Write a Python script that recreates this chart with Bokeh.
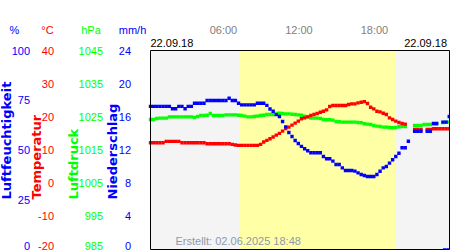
import math
from bokeh.plotting import figure
from bokeh.models import Range1d, Label, BoxAnnotation, ColumnDataSource
from bokeh.embed import file_html
from bokeh.resources import INLINE

nan = float("nan")

# ---------------- data (15-minute steps, 22.09.18) ----------------
step_h = 0.25
humidity = [
    71.9, 71.9, 71.9, 71.9, 71.9, 71.9, 71.9, 70.7, 70.7, 71.9, 71.9, 70.7,
    71.9, 71.9, 73.5, 73.5, 73.5, 73.5, 74.9, 74.9, 74.9, 74.9, 74.9, 74.9,
    74.9, 76.0, 74.9, 74.9, 73.5, 72.7, 72.7, 72.7, 72.7, 72.7, 73.5, 73.5,
    73.5, 72.4, 70.6, 69.5, 67.8, 66.8, 64.3, 61.6, 58.8, 56.8, 54.8, 53.3,
    51.8, 50.6, 49.6, 48.6, 48.6, 48.6, 48.6, 46.7, 45.6, 45.6, 44.4, 42.7,
    42.7, 41.0, 39.7, 39.7, 39.7, 39.4, 38.5, 37.7, 37.2, 36.7, 36.7, 36.7,
    37.7, 39.3, 41.0, 41.7, 43.4, 45.1, 46.7, 48.4, 51.1, 51.1, 54.4, nan,
    59.4, 59.4, 59.4, nan, 59.4, 59.4, 63.3, 63.3, nan, 64.0, 64.0, 66.8,
]
temperature = [
    12.2, 12.2, 12.2, 12.2, 12.2, 12.6, 12.6, 12.6, 12.6, 12.6, 12.2, 12.2,
    12.2, 12.2, 12.2, 12.2, 12.2, 12.2, 11.9, 11.9, 11.9, 11.9, 11.9, 11.9,
    11.9, 11.9, 11.7, 11.5, 11.4, 11.4, 11.4, 11.4, 11.4, 11.4, 11.4, 11.7,
    12.4, 12.9, 13.4, 13.9, 14.5, 15.0, 15.7, 16.5, 16.9, 17.5, 18.1, 18.7,
    19.4, 19.7, 20.0, 20.4, 20.7, 21.0, 21.4, 21.7, 22.1, 23.1, 23.4, 23.4,
    23.4, 23.4, 23.4, 23.7, 23.9, 23.9, 24.2, 24.4, 24.6, 24.0, 22.9, 22.4,
    21.7, 21.5, 21.1, 20.7, 19.7, 19.2, 18.7, 18.3, 18.0, 17.8, nan, nan,
    16.2, 16.2, 16.2, nan, 16.2, 16.2, 16.4, 16.4, 16.4, 16.4, 16.4, 16.4,
]
pressure = [
    1024.2, 1024.2, 1024.5, 1024.6, 1024.6, 1024.6, 1025.0, 1025.0, 1025.0, 1025.0, 1025.0, 1025.0,
    1025.0, 1025.0, 1024.8, 1025.1, 1025.4, 1025.4, 1025.5, 1026.0, 1025.4, 1025.4, 1025.4, 1025.4,
    1025.6, 1025.6, 1025.6, 1025.6, 1025.5, 1025.4, 1025.2, 1025.0, 1025.0, 1025.1, 1025.2, 1025.4,
    1025.5, 1025.7, 1025.7, 1025.7, 1026.0, 1026.1, 1026.0, 1025.9, 1025.9, 1025.8, 1025.7, 1025.6,
    1025.5, 1025.2, 1025.0, 1024.6, 1024.6, 1024.6, 1024.5, 1024.2, 1024.1, 1024.1, 1024.0, 1023.6,
    1023.5, 1023.4, 1023.4, 1023.4, 1023.4, 1023.4, 1023.3, 1023.2, 1022.9, 1022.8, 1022.7, 1022.4,
    1022.2, 1022.1, 1021.9, 1021.9, 1021.8, 1021.7, 1021.8, 1022.0, 1022.1, 1022.1, nan, nan,
    1022.4, 1022.4, 1022.4, 1022.7, 1022.7, 1022.7, 1022.9, 1022.9, nan, 1023.3, 1023.4, 1023.4,
]
times = [i * step_h for i in range(len(temperature))]

rain_start = [23.25, 23.5]
rain_mmh = [0.15, 0.15]

sunrise, sunset = 7.08, 19.47

hum_ticks = [0, 25, 50, 75, 100]
temp_ticks = [-20, -10, 0, 10, 20, 30, 40]
pres_ticks = [985, 995, 1005, 1015, 1025, 1035, 1045]
rain_ticks = [0, 4, 8, 12, 16, 20, 24]
time_ticks = [6, 12, 18]
time_labels = ["06:00", "12:00", "18:00"]
date_label = "22.09.18"
created = "Erstellt: 02.06.2025 18:48"

BLUE, RED, GREEN, GREY = "#0000ff", "#ff0000", "#00ff00", "#808080"
FONT = "Liberation Sans"

# ---------------- scales ----------------
W, H = 450, 250
XMAX = 23.77
FL, FR, FT, FB = 150, 449, 50, 249  # chart box edges in px


def dx(px):
    return (px - FL) * XMAX / (FR - FL)


def lin(lo, hi):
    # value on a scale running lo (box bottom) .. hi (box top) at pixel row py
    return lambda py: hi - (py - FT) * (hi - lo) / (FB - FT)


dy = lin(temp_ticks[0], temp_ticks[-1])
hum_y = lin(hum_ticks[0], hum_ticks[-1])
pres_y = lin(pres_ticks[0], pres_ticks[-1])
rain_y = lin(rain_ticks[0], rain_ticks[-1])

p = figure(width=W, height=H, output_backend="svg", toolbar_location=None,
           x_range=Range1d(dx(0), dx(W)), y_range=Range1d(dy(H), dy(0)),
           x_axis_location=None, y_axis_location=None,
           min_border_left=0, min_border_right=0, min_border_top=0, min_border_bottom=0,
           background_fill_color="white", border_fill_color="white",
           outline_line_color=None)
p.grid.visible = False
p.extra_y_ranges = {"hum": Range1d(hum_y(H), hum_y(0)),
                    "pres": Range1d(pres_y(H), pres_y(0)),
                    "rain": Range1d(rain_y(H), rain_y(0))}

# chart background and daylight
p.add_layout(BoxAnnotation(left=0, right=XMAX, bottom=-20, top=40, fill_color="#f4f4f4",
                           fill_alpha=1, line_color=None, level="underlay"))
p.add_layout(BoxAnnotation(left=sunrise, right=sunset, bottom=-20, top=40,
                           fill_color="#ffffa6", fill_alpha=1, line_color=None,
                           level="underlay"))
inner = temp_ticks[1:-1]
p.segment(x0=[0] * len(inner), x1=[XMAX] * len(inner), y0=inner, y1=inner,
          line_color="black", line_width=1, level="underlay")
# vertical hour lines (06:00 line hidden behind footer text)
p.segment(x0=time_ticks, x1=time_ticks, y0=[dy(231), -20, -20], y1=[40, 40, 40],
          line_color=GREY, line_width=1, level="underlay")

src = ColumnDataSource(dict(t=times, hum=humidity, temp=temperature, pres=pressure))
p.scatter("t", "pres", source=src, marker="square", size=3.4, fill_color=GREEN,
          line_color=None, y_range_name="pres")
p.scatter("t", "temp", source=src, marker="square", size=3.4, fill_color=RED,
          line_color=None)
p.scatter("t", "hum", source=src, marker="square", size=3.4, fill_color=BLUE,
          line_color=None, y_range_name="hum")

p.vbar(x=[s + step_h / 2 for s in rain_start], width=step_h, top=rain_mmh, bottom=0,
       fill_color=BLUE, line_color=None, y_range_name="rain")

# chart outline
p.quad(left=[0], right=[XMAX], bottom=[-20], top=[40], fill_color=None,
       line_color="black", line_width=1)


# ---------------- left scales ----------------
def tick_labels(ticks, right_px, color, rng=None):
    for i, tv in enumerate(ticks):
        kw = {}
        if rng:
            kw["y_range_name"] = rng
        base = "bottom" if i == 0 else "middle"
        p.add_layout(Label(x=dx(right_px), y=tv, text=str(tv), text_align="right",
                           text_baseline=base, text_color=color, text_font=FONT,
                           text_font_size="11px", **kw))


tick_labels(hum_ticks, 29.5, BLUE, "hum")
tick_labels(temp_ticks, 53.5, RED)
tick_labels(pres_ticks, 102.5, GREEN, "pres")
tick_labels(rain_ticks, 130.5, BLUE, "rain")

for txt, cx, col in [("%", 14, BLUE), ("°C", 47, RED), ("hPa", 90.5, GREEN),
                     ("mm/h", 132, BLUE)]:
    p.add_layout(Label(x=dx(cx), y=dy(29), text=txt, text_align="center",
                       text_baseline="middle", text_color=col, text_font=FONT,
                       text_font_size="11px"))

for txt, cx, col in [("Luftfeuchtigkeit", 6, BLUE), ("Temperatur", 35.5, RED),
                     ("Luftdruck", 72.5, GREEN), ("Niederschlag", 112, BLUE)]:
    p.add_layout(Label(x=dx(cx), y=dy(199), text=txt, angle=math.pi / 2,
                       text_align="left", text_baseline="middle", text_color=col,
                       text_font="DejaVu Sans", text_font_style="bold",
                       text_font_size="13px"))

# ---------------- top labels ----------------
for tv, txt in zip(time_ticks, time_labels):
    p.add_layout(Label(x=tv, y=dy(29), x_offset=-2.5, text=txt, text_align="center",
                       text_baseline="middle", text_color=GREY, text_font=FONT,
                       text_font_size="11px"))
p.add_layout(Label(x=dx(150), y=dy(42.5), text=date_label, text_align="left",
                   text_baseline="middle", text_color="black", text_font=FONT,
                   text_font_size="11px"))
p.add_layout(Label(x=dx(446.5), y=dy(42.5), text=date_label, text_align="right",
                   text_baseline="middle", text_color="black", text_font=FONT,
                   text_font_size="11px"))
p.add_layout(Label(x=dx(175), y=dy(240.5), text=created, text_align="left",
                   text_baseline="middle", text_color="#8c99ad", text_font=FONT,
                   text_font_size="11px"))

open("out.html", "w").write(file_html(p, INLINE))
